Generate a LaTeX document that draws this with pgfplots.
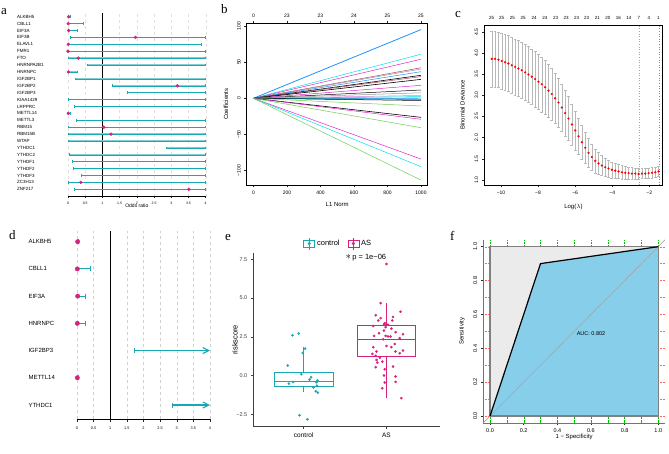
\documentclass[border=0pt]{standalone}
\usepackage{pgfplots}
\usepackage{pgfplotstable}
\pgfplotsset{compat=1.18}
\usepgfplotslibrary{statistics}
\usetikzlibrary{arrows.meta}
\usepackage{fontspec}
\setmainfont{Liberation Sans}
\newfontfamily\serif{Liberation Serif}
\newcommand\fs[1]{\fontsize{#1}{#1}\selectfont}
\definecolor{tealc}{RGB}{23,168,178}
\definecolor{pinkc}{RGB}{216,35,125}
\definecolor{sky}{RGB}{135,206,235}
\definecolor{rblue}{RGB}{30,144,255}
\definecolor{rcyan}{RGB}{0,225,238}
\definecolor{rmag}{RGB}{222,40,200}
\definecolor{rgreen}{RGB}{110,205,80}
\definecolor{rbrown}{RGB}{175,70,95}
\definecolor{rgray}{RGB}{150,150,150}
\pgfplotsset{
 base/.style={scale only axis, clip=false, anchor=south west,
  /pgf/number format/assume math mode=true,
  tick align=outside, major tick length=2.5pt,
  tick style={black!85, line width=0.4pt},
  axis line style={line width=0.5pt}},
}
% cross-validation curve: log(lambda), mean deviance
\pgfplotstableread{
x y
-10.50 3.86
-10.32 3.86
-10.14 3.84
-9.96 3.81
-9.78 3.78
-9.60 3.75
-9.42 3.71
-9.24 3.67
-9.06 3.63
-8.88 3.59
-8.70 3.54
-8.52 3.49
-8.34 3.44
-8.16 3.38
-7.98 3.32
-7.80 3.26
-7.62 3.19
-7.44 3.11
-7.26 3.03
-7.08 2.93
-6.90 2.83
-6.72 2.71
-6.54 2.58
-6.36 2.45
-6.18 2.31
-6.00 2.17
-5.82 2.03
-5.64 1.89
-5.46 1.76
-5.28 1.64
-5.10 1.54
-4.92 1.45
-4.74 1.39
-4.56 1.34
-4.38 1.30
-4.20 1.27
-4.02 1.24
-3.84 1.22
-3.66 1.20
-3.48 1.18
-3.30 1.17
-3.12 1.16
-2.94 1.15
-2.76 1.15
-2.58 1.14
-2.40 1.15
-2.22 1.15
-2.04 1.16
-1.86 1.17
-1.68 1.18
-1.50 1.20
}\cvmean
% error bar ends (lower, upper), separated by nan rows
\pgfplotstableread{
x y
-10.50 3.20
-10.50 4.52
nan nan
-10.32 3.20
-10.32 4.52
nan nan
-10.14 3.18
-10.14 4.50
nan nan
-9.96 3.15
-9.96 4.47
nan nan
-9.78 3.12
-9.78 4.44
nan nan
-9.60 3.09
-9.60 4.41
nan nan
-9.42 3.05
-9.42 4.37
nan nan
-9.24 3.01
-9.24 4.33
nan nan
-9.06 2.97
-9.06 4.29
nan nan
-8.88 2.93
-8.88 4.25
nan nan
-8.70 2.88
-8.70 4.20
nan nan
-8.52 2.83
-8.52 4.15
nan nan
-8.34 2.78
-8.34 4.10
nan nan
-8.16 2.72
-8.16 4.04
nan nan
-7.98 2.66
-7.98 3.98
nan nan
-7.80 2.61
-7.80 3.91
nan nan
-7.62 2.55
-7.62 3.83
nan nan
-7.44 2.48
-7.44 3.74
nan nan
-7.26 2.41
-7.26 3.65
nan nan
-7.08 2.33
-7.08 3.53
nan nan
-6.90 2.25
-6.90 3.41
nan nan
-6.72 2.15
-6.72 3.27
nan nan
-6.54 2.04
-6.54 3.12
nan nan
-6.36 1.93
-6.36 2.97
nan nan
-6.18 1.82
-6.18 2.80
nan nan
-6.00 1.71
-6.00 2.63
nan nan
-5.82 1.60
-5.82 2.46
nan nan
-5.64 1.49
-5.64 2.29
nan nan
-5.46 1.39
-5.46 2.13
nan nan
-5.28 1.30
-5.28 1.98
nan nan
-5.10 1.23
-5.10 1.85
nan nan
-4.92 1.17
-4.92 1.73
nan nan
-4.74 1.13
-4.74 1.65
nan nan
-4.56 1.10
-4.56 1.58
nan nan
-4.38 1.08
-4.38 1.52
nan nan
-4.20 1.07
-4.20 1.47
nan nan
-4.02 1.05
-4.02 1.43
nan nan
-3.84 1.04
-3.84 1.40
nan nan
-3.66 1.03
-3.66 1.37
nan nan
-3.48 1.02
-3.48 1.34
nan nan
-3.30 1.02
-3.30 1.32
nan nan
-3.12 1.02
-3.12 1.30
nan nan
-2.94 1.01
-2.94 1.29
nan nan
-2.76 1.02
-2.76 1.28
nan nan
-2.58 1.01
-2.58 1.27
nan nan
-2.40 1.03
-2.40 1.27
nan nan
-2.22 1.03
-2.22 1.27
nan nan
-2.04 1.04
-2.04 1.28
nan nan
-1.86 1.05
-1.86 1.29
nan nan
-1.68 1.06
-1.68 1.30
nan nan
-1.50 1.08
-1.50 1.32
}\cvbars
\begin{document}
\begin{tikzpicture}
% ---------------- panel a ----------------
\begin{axis}[base, at={(68pt,256.3pt)}, width=137.7pt, height=183.7pt,
 xmin=0, xmax=4, ymin=-0.07, ymax=26.54,
 axis x line*=bottom, axis y line*=left,
 y axis line style={draw=none}, ytick style={draw=none},
 xtick={0,0.5,1,1.5,2,2.5,3,3.5,4}, xticklabels={0,0.5,1,1.5,2,2.5,3,3.5,4},
 xticklabel style={font=\fs{3.5}},
 major tick length=1.5pt,
 ytick={1,...,26},
 yticklabels={ZNF217,ZC3H13,YTHDF3,YTHDF2,YTHDF1,YTHDC2,YTHDC1,WTAP,RBM15B,RBM15,METTL3,METTL14,LRPPRC,KIAA1429,IGF2BP3,IGF2BP2,IGF2BP1,HNRNPC,HNRNPA2B1,FTO,FMR1,ELAVL1,EIF3B,EIF3A,CBLL1,ALKBH5},
 yticklabel style={font=\fs{4.5}, anchor=west, xshift=-53pt},
 xmajorgrids, major x grid style={dashed, black!12, line width=0.3pt},
 xlabel={Odds ratio}, x label style={font=\fs{5}, at={(axis description cs:0.5,-0.05)}, anchor=center},
 unbounded coords=jump]
\addplot[black, line width=1pt] coordinates {(1,-0.07) (1,26.54)};
\addplot[tealc!55, line width=1.3pt] table {
x y
0 26
0.07 26
nan nan
0 25
0.45 25
nan nan
0 24
0.27 24
nan nan
0.07 23
4 23
nan nan
0 22
3.88 22
nan nan
0 21
4 21
nan nan
0 20
4 20
nan nan
0.55 19
4 19
nan nan
0 18
0.26 18
nan nan
0.22 17
4 17
nan nan
1.29 16
4 16
nan nan
1.73 15
4 15
nan nan
0.01 14
4 14
nan nan
0.17 13
4 13
nan nan
0 12
0.06 12
nan nan
0.24 11
4 11
nan nan
0.01 10
4 10
nan nan
0.01 9
4 9
nan nan
0.01 8
4 8
nan nan
2.85 7
4 7
nan nan
0.04 6
4 6
nan nan
0.13 5
4 5
nan nan
0.16 4
4 4
nan nan
0.39 3
4 3
nan nan
0 2
4 2
nan nan
0.17 1
4 1
};
\addplot[tealc, line width=0.5pt, mark=|, mark size=1.3pt, mark options={solid, line width=0.6pt}] table {
x y
0 26
0.07 26
nan nan
0 25
0.45 25
nan nan
0 24
0.27 24
nan nan
0.07 23
4 23
nan nan
0 22
3.88 22
nan nan
0 21
4 21
nan nan
0 20
4 20
nan nan
0.55 19
4 19
nan nan
0 18
0.26 18
nan nan
0.22 17
4 17
nan nan
1.29 16
4 16
nan nan
1.73 15
4 15
nan nan
0.01 14
4 14
nan nan
0.17 13
4 13
nan nan
0 12
0.06 12
nan nan
0.24 11
4 11
nan nan
0.01 10
4 10
nan nan
0.01 9
4 9
nan nan
0.01 8
4 8
nan nan
2.85 7
4 7
nan nan
0.04 6
4 6
nan nan
0.13 5
4 5
nan nan
0.16 4
4 4
nan nan
0.39 3
4 3
nan nan
0 2
4 2
nan nan
0.17 1
4 1
};
\addplot[only marks, mark=*, mark size=1.5pt, pinkc] coordinates {(0.02,26) (0.01,25) (0.02,24) (1.96,23) (0.01,22) (0,21) (0.30,20) (0.01,18) (3.18,16) (0.01,12) (1.04,10) (1.25,9) (0.37,2) (3.51,1)};
\end{axis}
% ---------------- panel b ----------------
\begin{axis}[base, at={(246.7pt,268pt)}, width=181pt, height=161.7pt,
 xmin=-40, xmax=1040, ymin=-119.8, ymax=103.7,
 xtick pos=left, ytick pos=left,
 xtick={0,200,400,600,800,1000}, xticklabels={0,200,400,600,800,1000},
 ytick={-100,-50,0,50,100}, yticklabels={−100,−50,0,50,100},
 yticklabel style={rotate=90, anchor=south},
 tick label style={font=\fs{5}},
 xlabel={L1 Norm}, ylabel={Coefficients},
 label style={font=\fs{6}},
 x label style={at={(axis description cs:0.5,-0.1175)}, anchor=center},
 y label style={at={(axis description cs:-0.114,0.5)}, anchor=center}]
\addplot[rblue, line width=0.8pt] coordinates {(0,0) (1000,95)};
\addplot[rcyan, line width=0.5pt] coordinates {(0,0) (1000,61)};
\addplot[rmag, line width=0.5pt] coordinates {(0,0) (1000,54)};
\addplot[rbrown, line width=0.5pt] coordinates {(0,0) (1000,42.3)};
\addplot[rgray, line width=0.5pt] coordinates {(0,0) (1000,40.5)};
\addplot[rblue, line width=0.5pt] coordinates {(0,0) (1000,36.8)};
\addplot[black, line width=0.6pt] coordinates {(0,0) (1000,31.8)};
\addplot[rbrown, line width=0.5pt] coordinates {(0,0) (1000,30)};
\addplot[black, line width=0.6pt] coordinates {(0,0) (1000,26.2)};
\addplot[rmag, line width=0.5pt] coordinates {(0,0) (1000,18)};
\addplot[black, line width=0.5pt] coordinates {(0,0) (1000,11.5)};
\addplot[rgray, line width=0.5pt] coordinates {(0,0) (1000,7.7)};
\addplot[rmag!60, line width=0.5pt] coordinates {(0,0) (1000,4)};
\addplot[rcyan, line width=0.6pt] coordinates {(0,0) (1000,2.3)};
\addplot[rgreen, line width=0.5pt] coordinates {(0,0) (1000,0.5)};
\addplot[rblue, line width=0.5pt] coordinates {(0,0) (1000,-0.6)};
\addplot[teal, line width=0.5pt] coordinates {(0,0) (1000,-1.5)};
\addplot[black, line width=0.5pt] coordinates {(0,0) (1000,-3)};
\addplot[rgreen, line width=0.5pt] coordinates {(0,0) (1000,-10.6)};
\addplot[black, line width=0.6pt] coordinates {(0,0) (1000,-26.3)};
\addplot[rmag, line width=0.5pt] coordinates {(0,0) (1000,-29)};
\addplot[rgreen, line width=0.5pt] coordinates {(0,0) (1000,-40.6)};
\addplot[rmag, line width=0.5pt] coordinates {(0,0) (1000,-83.9)};
\addplot[rcyan, line width=0.5pt] coordinates {(0,0) (1000,-94.5)};
\addplot[rgreen, line width=0.5pt] coordinates {(0,0) (1000,-113)};
\end{axis}
\begin{axis}[base, at={(246.7pt,268pt)}, width=181pt, height=161.7pt,
 xmin=-40, xmax=1040, ymin=-119.8, ymax=103.7,
 axis x line*=top, axis y line=none,
 xtick={0,200,400,600,800,1000}, xticklabels={0,23,23,24,25,25},
 tick label style={font=\fs{5}}]
\end{axis}
% ---------------- panel c ----------------
\begin{axis}[base, at={(484.3pt,268pt)}, width=178.4pt, height=160pt,
 xmin=-10.9, xmax=-1.28, ymin=0.88, ymax=4.66,
 xtick pos=left, ytick pos=left,
 xtick={-10,-8,-6,-4,-2}, xticklabels={−10,−8,−6,−4,−2},
 ytick={1,1.5,2,2.5,3,3.5,4,4.5}, yticklabels={1.0,1.5,2.0,2.5,3.0,3.5,4.0,4.5},
 yticklabel style={rotate=90, anchor=south},
 tick label style={font=\fs{5}},
 xlabel={Log($\lambda$)}, ylabel={Binomial Deviance},
 label style={font=\fs{6}},
 x label style={at={(axis description cs:0.5,-0.1375)}, anchor=center},
 y label style={at={(axis description cs:-0.123,0.5)}, anchor=center},
 unbounded coords=jump]
\addplot[black!35, dotted, line width=0.6pt] coordinates {(-2.56,0.88) (-2.56,4.66)};
\addplot[black!45, dotted, line width=0.6pt] coordinates {(-1.49,0.88) (-1.49,4.66)};
\addplot[black!28, line width=0.4pt, mark=-, mark size=1.4pt, mark options={solid, line width=0.4pt}] table {\cvbars};
\addplot[only marks, mark=*, mark size=0.9pt, red] table {\cvmean};
\end{axis}
\begin{axis}[base, at={(484.3pt,268pt)}, width=178.4pt, height=160pt,
 xmin=-10.9, xmax=-1.28, ymin=0.88, ymax=4.66,
 axis x line*=top, axis y line=none, major tick length=0pt,
 xtick={-10.50,-9.96,-9.39,-8.80,-8.22,-7.63,-7.05,-6.49,-5.92,-5.38,-4.80,-4.24,-3.67,-3.11,-2.56,-2.02,-1.51},
 xticklabels={25,25,25,25,24,24,23,23,23,23,21,20,16,14,7,4,1},
 tick label style={font=\fs{4.5}}, xticklabel style={yshift=2pt}]
\end{axis}
% ---------------- panel d ----------------
\begin{axis}[base, at={(77pt,33.7pt)}, width=133pt, height=188.3pt,
 xmin=0, xmax=4, ymin=0.475, ymax=7.393,
 axis x line*=bottom, axis y line*=left,
 y axis line style={draw=none}, ytick style={draw=none},
 axis line style={line width=0.7pt},
 xtick={0,0.5,1,1.5,2,2.5,3,3.5,4}, xticklabels={0,0.5,1,1.5,2,2.5,3,3.5,4},
 xticklabel style={font=\fs{3.8}, yshift=-1.5pt},
 ytick={1,...,7},
 yticklabels={YTHDC1,METTL14,IGF2BP3,HNRNPC,EIF3A,CBLL1,ALKBH5},
 yticklabel style={font=\fs{6}, anchor=west, xshift=-49.5pt},
 xmajorgrids, major x grid style={dashed, black!18, line width=0.35pt}]
\addplot[black, line width=1pt] coordinates {(1,0.475) (1,7.393)};
\addplot[tealc, line width=1.1pt, -{Bar[width=5pt]}] coordinates {(0,7) (0.07,7)};
\addplot[tealc, line width=1.1pt, -{Bar[width=5pt]}] coordinates {(0.01,6) (0.42,6)};
\addplot[tealc, line width=1.1pt, -{Bar[width=5pt]}] coordinates {(0.02,5) (0.26,5)};
\addplot[tealc, line width=1.1pt, -{Bar[width=5pt]}] coordinates {(0.01,4) (0.26,4)};
\addplot[tealc, line width=1.1pt, {Bar[width=5pt]}-{Straight Barb[length=6pt,width=6pt]}] coordinates {(1.72,3) (4,3)};
\addplot[tealc, line width=1.1pt, -{Bar[width=5pt]}] coordinates {(0,2) (0.06,2)};
\addplot[tealc, line width=1.1pt, {Bar[width=5pt]}-{Straight Barb[length=6pt,width=6pt]}] coordinates {(2.85,1) (4,1)};
\addplot[only marks, mark=*, mark size=2.2pt, pinkc] coordinates {(0.02,7) (0.01,6) (0.02,5) (0.01,4) (0.01,2)};
\end{axis}
% ---------------- panel e ----------------
\begin{axis}[scale only axis, clip=false, anchor=south west, at={(253.3pt,26.3pt)}, width=186.9pt, height=173.6pt,
 xmin=0.39, xmax=2.65, ymin=-3.3, ymax=7.9,
 axis x line*=bottom, axis y line*=left,
 axis line style={black!75, line width=0.6pt},
 tick align=outside, major tick length=2.5pt, tick style={black!75, line width=0.5pt},
 xtick={1,2}, xticklabels={control,AS}, xticklabel style={font=\fs{6.5}},
 ytick={-2.5,0,2.5,5,7.5}, yticklabels={−2.5,0.0,2.5,5.0,7.5}, yticklabel style={font=\fs{5.5}, text=black!75},
 ylabel={riskscore}, y label style={font=\fs{7.5}, at={(axis description cs:-0.098,0.5)}, anchor=center},
 boxplot/draw direction=y,
 legend style={at={(0.455,1.055)}, anchor=center, draw=none, fill=none, legend columns=2, font=\fs{7.5},
  /tikz/every even column/.append style={column sep=6pt}}]
\addlegendimage{tealc, line width=0.6pt, legend image code/.code={\draw (0pt,-3.5pt) rectangle (11pt,3.5pt); \draw (5.5pt,-6pt)--(5.5pt,6pt); \fill (5.5pt,0pt) circle (1.3pt);}}
\addlegendentry{control}
\addlegendimage{pinkc, line width=0.6pt, legend image code/.code={\draw (0pt,-3.5pt) rectangle (11pt,3.5pt); \draw (5.5pt,-6pt)--(5.5pt,6pt); \fill (5.5pt,0pt) circle (1.3pt);}}
\addlegendentry{AS}
\addplot[tealc, line width=0.6pt, fill=white, boxplot prepared={draw position=1, median=-0.39, lower quartile=-0.71, upper quartile=0.22, lower whisker=-1.07, upper whisker=1.85, box extend=0.71, whisker extend=0}, boxplot/every median/.style={line width=1.3pt}] coordinates {};
\addplot[pinkc, line width=0.6pt, fill=white, boxplot prepared={draw position=2, median=2.34, lower quartile=1.23, upper quartile=3.23, lower whisker=-1.46, upper whisker=4.67, box extend=0.70, whisker extend=0}, boxplot/every median/.style={line width=1.3pt}] coordinates {};
\addplot[only marks, mark=*, mark size=1.1pt, tealc] coordinates {(0.863,2.60) (0.94,2.71) (1.016,1.74) (0.988,1.46) (0.806,0.65) (0.97,0.09) (0.82,-0.52) (0.87,-0.41) (1.089,-0.11) (1.07,-0.26) (1.165,-0.32) (1.153,-0.43) (1.117,-0.77) (1.16,-0.65) (1.145,-1.01) (1.17,-1.10) (0.948,-2.56) (1.044,-2.82)};
\addplot[only marks, mark=*, mark size=1.1pt, pinkc] coordinates {(2.0,7.2) (1.93,4.67) (2.17,4.11) (1.87,3.89) (2.08,3.78) (1.93,3.70) (1.90,3.55) (2.07,3.55) (1.98,3.38) (2.0,3.31) (2.02,3.27) (1.97,3.31) (1.84,3.20) (2.06,3.03) (1.97,2.90) (2.11,2.80) (2.20,2.67) (1.85,2.56) (1.99,2.56) (2.02,2.52) (2.05,2.52) (2.16,2.41) (1.96,2.34) (2.10,2.04) (2.06,1.83) (1.84,1.83) (2.00,1.91) (2.20,1.61) (1.88,1.55) (2.11,1.55) (2.16,1.44) (1.83,1.40) (1.87,1.27) (1.92,1.16) (1.88,1.01) (1.89,0.84) (1.95,0.90) (2.08,0.58) (1.87,0.54) (1.98,0.41) (1.97,0.00) (2.11,-0.06) (1.98,-0.45) (2.11,-0.41) (1.95,-0.82) (2.18,-1.46) (1.99,3.12) (1.91,2.73)};
\node[font=\fs{7.5}, anchor=west] at (rel axis cs:0.475,0.976) {{\fs{11}$\ast$}\,p = 1e−06};
\end{axis}
% ---------------- panel f ----------------
\begin{axis}[base, at={(483.3pt,30.2pt)}, width=181.7pt, height=182.9pt,
 xmin=-0.04, xmax=1.04, ymin=-0.04, ymax=1.04,
 axis x line*=bottom, axis y line*=left,
 axis line style={black!55, line width=0.6pt},
 xtick={0,0.2,0.4,0.6,0.8,1}, xticklabels={0.0,0.2,0.4,0.6,0.8,1.0},
 ytick={0,0.2,0.4,0.6,0.8,1}, yticklabels={0.0,0.2,0.4,0.6,0.8,1.0},
 minor xtick={0.1,0.3,0.5,0.7,0.9}, minor ytick={0.1,0.3,0.5,0.7,0.9},
 minor tick length=0pt,
 yticklabel style={rotate=90, anchor=south},
 tick label style={font=\fs{5.5}},
 grid=both,
 major x grid style={green!75!black, densely dotted, line width=0.3pt},
 minor x grid style={green!75!black, densely dotted, line width=0.3pt},
 major y grid style={red!60, densely dotted, line width=0.3pt},
 minor y grid style={red!60, densely dotted, line width=0.3pt},
 xlabel={1 − Specificity}, ylabel={Sensitivity},
 label style={font=\fs{6}},
 x label style={at={(axis description cs:0.5,-0.0765)}, anchor=center},
 y label style={at={(axis description cs:-0.117,0.5)}, anchor=center}]
\addplot[fill=black!8, draw=none] coordinates {(0,0) (0,1) (1,1) (1,0)} -- cycle;
\addplot[fill=sky, draw=none] coordinates {(0,0) (0.3,0.9) (1,1) (1,0)} -- cycle;
\addplot[draw=black!50, line width=1.1pt] coordinates {(0,0) (0,1) (1,1) (1,0)} -- cycle;
\addplot[black!35, line width=0.6pt] coordinates {(-0.04,-0.04) (1.04,1.04)};
\addplot[black, line width=1.2pt] coordinates {(0,0) (0.3,0.9) (1,1)};
\node[font=\fs{5.5}] at (axis cs:0.6,0.485) {AUC: 0.802};
\end{axis}
% ---------------- panel letters ----------------
\node[font=\serif\fs{13}, anchor=base west, inner sep=0pt] at (1pt,438pt) {a};
\node[font=\serif\fs{13}, anchor=base west, inner sep=0pt] at (221pt,439pt) {b};
\node[font=\serif\fs{13}, anchor=base west, inner sep=0pt] at (455pt,435pt) {c};
\node[font=\serif\fs{13}, anchor=base west, inner sep=0pt] at (9pt,213pt) {d};
\node[font=\serif\fs{13}, anchor=base west, inner sep=0pt] at (225pt,212pt) {e};
\node[font=\serif\fs{13}, anchor=base west, inner sep=0pt] at (450pt,212pt) {f};
\pgfresetboundingbox
\path[use as bounding box] (0,0) rectangle (669pt,453pt);
\end{tikzpicture}
\end{document}
